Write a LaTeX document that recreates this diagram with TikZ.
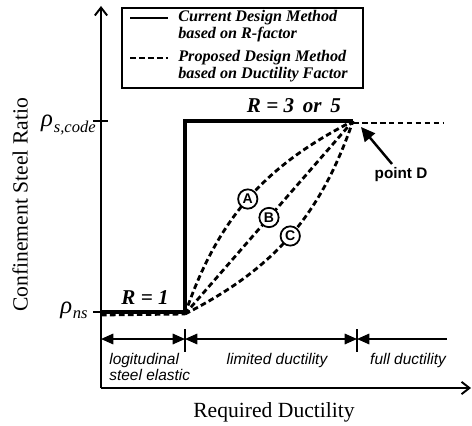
\documentclass[tikz,border=0pt]{standalone}
\usepackage{fontspec}
\setmainfont{Liberation Serif}
\setsansfont{Liberation Sans}
\usetikzlibrary{arrows.meta}
\newcommand{\rhosub}[1]{\fontsize{14}{14}\selectfont\itshape ρ\kern0.5pt\raisebox{-3pt}{\fontsize{9.4}{10}\selectfont #1}}
\tikzset{
    axis/.style={line width=1.1pt,-{Straight Barb[length=4.5pt,width=7pt]}},
    solidcurve/.style={line width=2pt},
    dashcurve/.style={line width=1.6pt,dash pattern=on 3.2pt off 1.9pt},
    dimline/.style={line width=0.9pt},
    legtext/.style={anchor=west,inner sep=0pt,font=\fontsize{9.2}{11}\selectfont\bfseries\itshape},
    zonetext/.style={inner sep=0pt,font=\fontsize{8.8}{10.5}\selectfont\sffamily\itshape},
    tag/.style={circle,draw,solid,line width=1pt,fill=white,inner sep=0pt,minimum size=11pt,font=\fontsize{8}{8}\selectfont\sffamily\bfseries}
}
\begin{document}
\begin{tikzpicture}[x=0.02cm,y=-0.02cm]
    \useasboundingbox (0,0) rectangle (472,425);
    % key points
    \coordinate (o) at (101,388);
    \coordinate (ytop) at (101,6);
    \coordinate (xend) at (471,388);
    \coordinate (ns) at (101,312);
    \coordinate (nsd) at (101,315);
    \coordinate (stepb) at (185,312);
    \coordinate (stept) at (185,121);
    \coordinate (start) at (185,314);
    \coordinate (d) at (353,121);
    \coordinate (dd) at (353,123);
    \coordinate (topend) at (443,123);
    \coordinate (nsl) at (93,312);
    \coordinate (nsr) at (108,312);
    \coordinate (codel) at (93,121);
    \coordinate (coder) at (108,121);
    % axes
    \draw[axis] (o) -- (ytop);
    \draw[axis] (o) -- (xend);
    \draw[line width=0.9pt] (nsl) -- (nsr);
    \draw[line width=0.9pt] (codel) -- (coder);
    \node[anchor=base east,inner sep=0pt] (lcode) at (96,127) {\rhosub{s,code}};
    \node[anchor=base east,inner sep=0pt] (lns) at (88,313) {\rhosub{ns}};
    \node[rotate=90] (ylab) at (20,205) {\fontsize{12.3}{14}\selectfont Confinement Steel Ratio};
    \node (xlab) at (274,412) {\fontsize{12.3}{14}\selectfont Required Ductility};
    % current design method
    \draw[solidcurve] (ns) -- (stepb) -- (stept) -- (d);
    \node (r1) at (145,298) {\fontsize{12}{12}\selectfont\bfseries\itshape R = 1};
    \node (r35) at (294,106) {\fontsize{12}{12}\selectfont\bfseries\itshape R = 3 \,or\, 5};
    % proposed design method
    \draw[dashcurve] (nsd) -- (start);
    \draw[dashcurve] (dd) -- (topend);
    \draw[dashcurve] (start) to[bend left=22] node[tag] (a) {A} (d);
    \draw[dashcurve] (start) -- node[tag] (b) {B} (d);
    \draw[dashcurve] (start) to[bend right=22] node[tag] (c) {C} (d);
    \node[font=\fontsize{8.7}{10}\selectfont\sffamily\bfseries] (pd) at (401,175) {point D};
    \coordinate (pdtail) at (392,164);
    \coordinate (pdtip) at (361,127);
    \draw[line width=1.4pt,-{Triangle[length=8pt,width=7.5pt]}] (pdtail) -- (pdtip);
    % ductility zones
    \begin{scope}[dimline]
    \coordinate (z0) at (101,339);
    \coordinate (z1) at (185,339);
    \coordinate (z2) at (357,339);
    \coordinate (z3) at (447,339);
    \draw (185,329) -- (185,352);
    \draw (357,329) -- (357,352);
    \draw[{Triangle[length=7pt,width=6pt]}-{Triangle[length=7pt,width=6pt]}] (z0) -- (z1);
    \draw[{Triangle[length=7pt,width=6pt]}-{Triangle[length=7pt,width=6pt]}] (z1) -- (z2);
    \draw[{Triangle[length=7pt,width=6pt]}-] (z2) -- (z3);
    \end{scope}
    \node[zonetext,anchor=west] (ze1) at (109,360) {logitudinal};
    \node[zonetext,anchor=west] (ze2) at (109,375) {steel elastic};
    \node[zonetext] (zl) at (277,360) {limited ductility};
    \node[zonetext] (zf) at (408,360) {full ductility};
    % legend
    \draw[line width=0.9pt] (122,8) rectangle (363,88);
    \draw[line width=1.7pt] (130,18) -- (168,18);
    \draw[line width=1.7pt,dash pattern=on 3.2pt off 1.9pt] (130,58) -- (168,58);
    \node[legtext] (l1) at (178,18) {Current Design Method};
    \node[legtext] (l2) at (178,35) {based on R-factor};
    \node[legtext] (l3) at (178,58) {Proposed Design Method};
    \node[legtext] (l4) at (178,75) {based on Ductility Factor};
\end{tikzpicture}
\end{document}
